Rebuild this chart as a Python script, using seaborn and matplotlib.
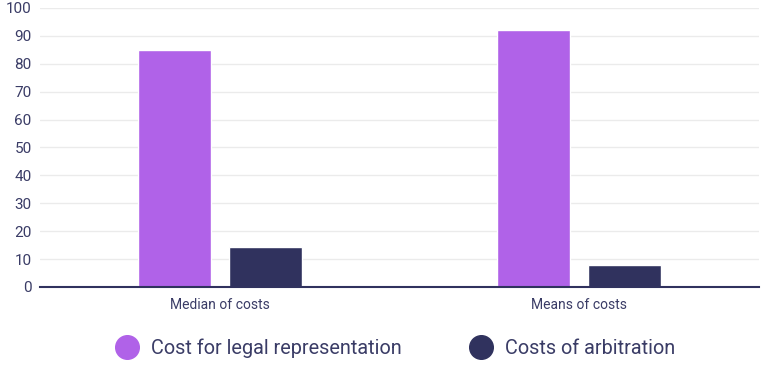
import matplotlib
matplotlib.use("Agg")
import matplotlib.pyplot as plt
import seaborn as sns
import pandas as pd
from matplotlib.lines import Line2D

categories = ["Median of costs", "Means of costs"]
series_names = ["Cost for legal representation", "Costs of arbitration"]
legal_values = [84.9, 92.2]
arbitration_values = [14.4, 7.9]
y_ticks = [0, 10, 20, 30, 40, 50, 60, 70, 80, 90, 100]

colors = ["#B062E8", "#30325E"]
text_color = "#3A3C66"

df = pd.DataFrame({
    "category": categories * 2,
    "series": [series_names[0]] * 2 + [series_names[1]] * 2,
    "value": legal_values + arbitration_values,
})

sns.set_theme(style="white")
plt.rcParams["font.family"] = ["Roboto", "DejaVu Sans"]

fig = plt.figure(figsize=(7.66, 3.72), dpi=100)
ax = fig.add_axes([0.0522, 0.2285, 0.9386, 0.750])

sns.barplot(data=df, x="category", y="value", hue="series", order=categories,
            hue_order=series_names, palette=colors, width=0.506, gap=0.2,
            saturation=1, ax=ax, legend=False)

ax.set_xlim(-0.5, 1.5)
ax.set_ylim(0, 100)
ax.set_yticks(y_ticks)
ax.set_xlabel("")
ax.set_ylabel("")
ax.yaxis.grid(True, color="#EBEBEB", linewidth=1)
ax.set_axisbelow(True)
for s in ["top", "right", "left"]:
    ax.spines[s].set_visible(False)
ax.spines["bottom"].set_color("#30325E")
ax.spines["bottom"].set_linewidth(1.5)
ax.tick_params(axis="y", length=0, labelsize=11, labelcolor=text_color, pad=6)
ax.tick_params(axis="x", length=0, labelsize=10, labelcolor=text_color, pad=8)

handles = [Line2D([0], [0], marker="o", linestyle="", markersize=17,
                  markerfacecolor=c, markeredgecolor=c) for c in colors]
fig.legend(handles, series_names, loc="center", bbox_to_anchor=(0.511, 0.064),
           ncol=2, frameon=False, fontsize=14.3, labelcolor=text_color,
           columnspacing=3.0, handletextpad=0.2)

fig.savefig("out.png", dpi=100)
